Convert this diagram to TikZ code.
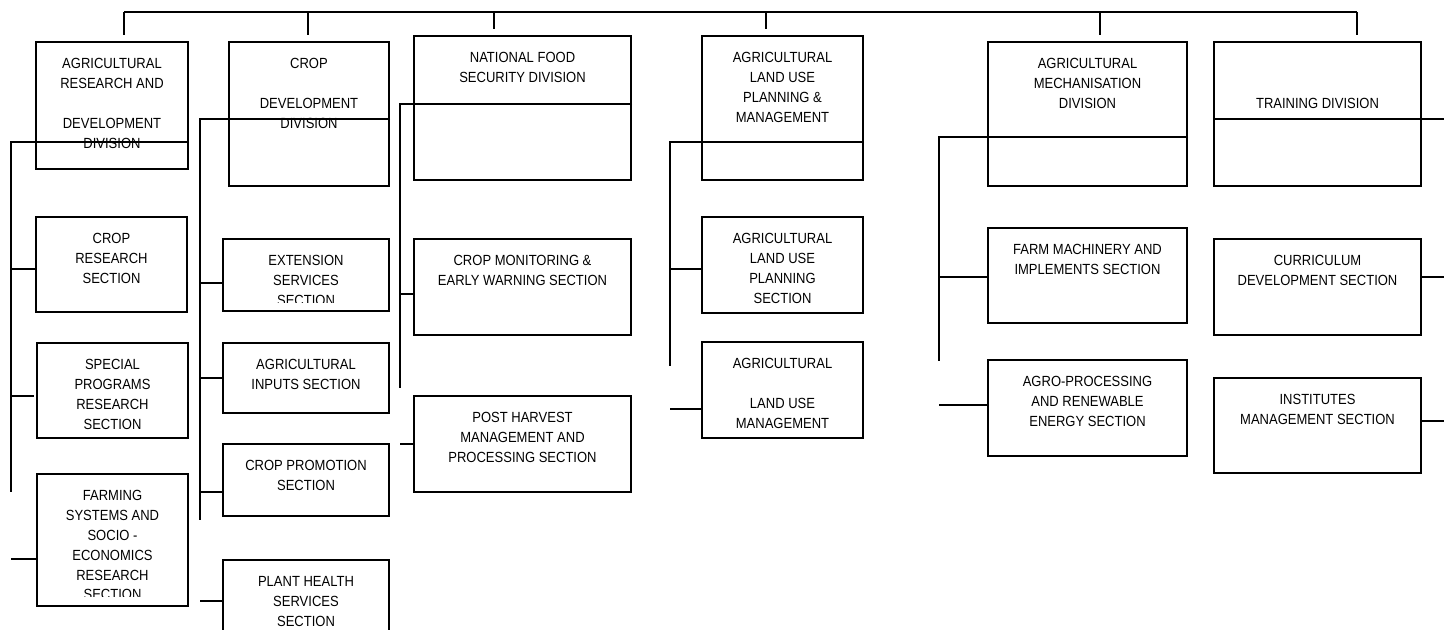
\documentclass[tikz,border=0pt]{standalone}
\usepackage{fontspec}
\setmainfont[FakeStretch=0.885]{Liberation Sans}
\usetikzlibrary{positioning,fit}

\tikzset{
  box/.style={draw,line width=1pt,inner sep=0pt},
  lbl/.style={font=\fontsize{7.35}{9.9}\selectfont,align=center,inner sep=0pt},
  wire/.style={line width=1pt}
}

\begin{document}
\begin{tikzpicture}[x=0.5pt,y=-0.5pt]
    \useasboundingbox (0,0) rectangle (1444,629);

    % Dessine les divisions
    \node[box,fit={(36,42) (188,169)}] (ard) {};
    \node[box,fit={(229,42) (389,186)}] (cdd) {};
    \node[box,fit={(414,36) (631,180)}] (nfs) {};
    \node[box,fit={(702,36) (863,180)}] (lup) {};
    \node[box,fit={(988,42) (1187,186)}] (mec) {};
    \node[box,fit={(1214,42) (1421,186)}] (trd) {};

    % Dessine les sections
    \node[box,fit={(36,217) (187,312)}] (crs) {};
    \node[box,fit={(37,343) (188,438)}] (spr) {};
    \node[box,fit={(37,474) (188,606)}] (fss) {};
    \node[box,fit={(223,239) (389,311)}] (ext) {};
    \node[box,fit={(223,343) (389,413)}] (inp) {};
    \node[box,fit={(223,444) (389,516)}] (pro) {};
    \node[box,fit={(223,560) (389,650)}] (phs) {};
    \node[box,fit={(414,239) (631,335)}] (mon) {};
    \node[box,fit={(414,396) (631,492)}] (phm) {};
    \node[box,fit={(702,217) (863,313)}] (lus) {};
    \node[box,fit={(702,342) (863,438)}] (lum) {};
    \node[box,fit={(988,228) (1187,323)}] (fms) {};
    \node[box,fit={(988,360) (1187,456)}] (agr) {};
    \node[box,fit={(1214,239) (1421,335)}] (cur) {};
    \node[box,fit={(1214,378) (1421,473)}] (ins) {};

    % Les textes
    \node[lbl,below=8.6pt of ard.north] (ardt) {AGRICULTURAL\\RESEARCH AND\\[9.9pt]DEVELOPMENT\\DIVISION};
    \node[lbl,below=8.6pt of cdd.north] (cddt) {CROP\\[9.9pt]DEVELOPMENT\\DIVISION};
    \node[lbl,below=8.6pt of nfs.north] (nfst) {NATIONAL FOOD\\SECURITY DIVISION};
    \node[lbl,below=8.6pt of lup.north] (lupt) {AGRICULTURAL\\LAND USE\\PLANNING \&\\MANAGEMENT};
    \node[lbl,below=8.6pt of mec.north] (mect) {AGRICULTURAL\\MECHANISATION\\DIVISION};
    \node[lbl,below=28.4pt of trd.north] (trdt) {TRAINING DIVISION};
    \node[lbl,below=8.6pt of crs.north] (crst) {CROP\\RESEARCH\\SECTION};
    \node[lbl,below=8.6pt of spr.north] (sprt) {SPECIAL\\PROGRAMS\\RESEARCH\\SECTION};
    \begin{scope}
     \clip (37,474) rectangle (188,596);
     \node[lbl,below=8.6pt of fss.north] (fsst) {FARMING\\SYSTEMS AND\\SOCIO -\\ECONOMICS\\RESEARCH\\SECTION};
    \end{scope}
    \begin{scope}
     \clip (223,239) rectangle (389,302);
     \node[lbl,below=8.6pt of ext.north] (extt) {EXTENSION\\SERVICES\\SECTION};
    \end{scope}
    \node[lbl,below=8.6pt of inp.north] (inpt) {AGRICULTURAL\\INPUTS SECTION};
    \node[lbl,below=8.6pt of pro.north] (prot) {CROP PROMOTION\\SECTION};
    \node[lbl,below=8.6pt of phs.north] (phst) {PLANT HEALTH\\SERVICES\\SECTION};
    \node[lbl,below=8.6pt of mon.north] (mont) {CROP MONITORING \&\\EARLY WARNING SECTION};
    \node[lbl,below=8.6pt of phm.north] (phmt) {POST HARVEST\\MANAGEMENT AND\\PROCESSING SECTION};
    \node[lbl,below=8.6pt of lus.north] (lust) {AGRICULTURAL\\LAND USE\\PLANNING\\SECTION};
    \node[lbl,below=8.6pt of lum.north] (lumt) {AGRICULTURAL\\[9.9pt]LAND USE\\MANAGEMENT};
    \node[lbl,below=8.6pt of fms.north] (fmst) {FARM MACHINERY AND\\IMPLEMENTS SECTION};
    \node[lbl,below=8.6pt of agr.north] (agrt) {AGRO-PROCESSING\\AND RENEWABLE\\ENERGY SECTION};
    \node[lbl,below=8.6pt of cur.north] (curt) {CURRICULUM\\DEVELOPMENT SECTION};
    \node[lbl,below=8.6pt of ins.north] (inst) {INSTITUTES\\MANAGEMENT SECTION};

    % Ligne du haut
    \coordinate (busL) at (124,12);
    \coordinate (busR) at (1357,12);
    \draw[wire] (busL) -- (busR);
    \foreach \x/\y in {124/35,308/35,494/29,766/29,1100/35,1357/35}
      \draw[wire] (\x,12) -- (\x,\y);

    % Les branches
    \coordinate (sA) at (11,142);
    \draw[wire] (ard.east |- sA) -- (sA) -- (11,492);
    \draw[wire] (sA |- 0,269) -- (crs.west |- 0,269);
    \draw[wire] (sA |- 0,396) -- (34,396);
    \draw[wire] (sA |- 0,559) -- (fss.west |- 0,559);

    \coordinate (sB) at (200,119);
    \draw[wire] (cdd.east |- sB) -- (sB) -- (200,520);
    \draw[wire] (sB |- 0,283) -- (ext.west |- 0,283);
    \draw[wire] (sB |- 0,378) -- (inp.west |- 0,378);
    \draw[wire] (sB |- 0,492) -- (pro.west |- 0,492);
    \draw[wire] (sB |- 0,601) -- (phs.west |- 0,601);

    \coordinate (sC) at (400,104);
    \draw[wire] (nfs.east |- sC) -- (sC) -- (400,388);
    \draw[wire] (sC |- 0,294) -- (mon.west |- 0,294);
    \draw[wire] (sC |- 0,444) -- (phm.west |- 0,444);

    \coordinate (sD) at (670,142);
    \draw[wire] (lup.east |- sD) -- (sD) -- (670,366);
    \draw[wire] (sD |- 0,269) -- (lus.west |- 0,269);
    \draw[wire] (sD |- 0,409) -- (lum.west |- 0,409);

    \coordinate (sE) at (939,137);
    \draw[wire] (mec.east |- sE) -- (sE) -- (939,361);
    \draw[wire] (sE |- 0,277) -- (fms.west |- 0,277);
    \draw[wire] (sE |- 0,405) -- (agr.west |- 0,405);

    \coordinate (sF) at (1444,119);
    \draw[wire] (trd.west |- sF) -- (sF);
    \draw[wire] (cur.east |- 0,277) -- (sF |- 0,277);
    \draw[wire] (ins.east |- 0,421) -- (sF |- 0,421);

\end{tikzpicture}
\end{document}
